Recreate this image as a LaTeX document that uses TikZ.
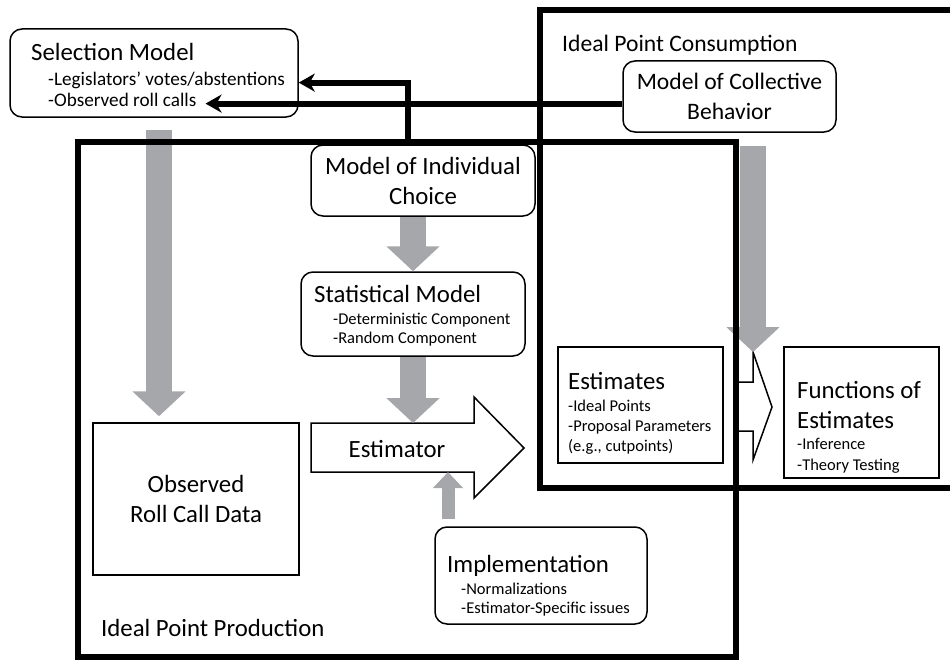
\documentclass[tikz,border=0pt]{standalone}
\usepackage{fontspec}
\setmainfont{Carlito}
\usetikzlibrary{arrows.meta}
\definecolor{flowgray}{RGB}{166,167,171}
\newcommand{\hfont}{\fontsize{24.8}{30}\selectfont}
\newcommand{\cfont}{\fontsize{23.6}{29.5}\selectfont}
\newcommand{\ifont}{\fontsize{19.2}{22}\selectfont}
\newcommand{\sfont}{\fontsize{16.5}{19}\selectfont}

\begin{document}
\begin{tikzpicture}[x=1pt,y=-1pt,
    box/.style={draw, line width=1.5pt, fill=white, rounded corners=12pt, inner sep=0pt},
    sqbox/.style={draw, line width=1.5pt, fill=white, inner sep=0pt},
    region/.style={draw, line width=5.5pt},
    lbl/.style={anchor=base west, inner sep=0pt},
    conn/.style={line width=6pt, line join=miter, -{Stealth[length=16pt,width=18pt,inset=5pt]}},
    flow/.style={line width=26pt, flowgray, -{Triangle[length=25pt,width=52pt]}},
    flowsmall/.style={line width=13pt, flowgray, -{Triangle[length=16pt,width=29pt]}},
    bigarrow/.style={draw, line width=1.5pt, fill=white, line join=miter}
]
\useasboundingbox (0,0) rectangle (950,661);
\clip (0,0) rectangle (950,661);

% boxes
\node[box, minimum width=288, minimum height=88] (sel) at (154,73) {};
\node[box, minimum width=213, minimum height=71, align=center, font=\cfont] (coll) at (729.5,96.5) {Model of Collective\\Behavior};
\node[box, minimum width=224, minimum height=71, align=center, font=\hfont] (indiv) at (423,180.5) {Model of Individual\\Choice};
\node[box, minimum width=224, minimum height=84] (stat) at (413,314) {};
\node[sqbox, minimum width=206, minimum height=152, align=center, font=\hfont] (obs) at (196,499) {Observed\\Roll Call Data};
\node[box, minimum width=212, minimum height=97] (impl) at (541,575.5) {};
\node[sqbox, minimum width=165, minimum height=116] (ests) at (640.5,405) {};
\node[sqbox, minimum width=155, minimum height=131] (funcs) at (861.5,412.5) {};

% texts
\node[lbl] (seltitle) at (31,60) {\hfont Selection Model};
\node[lbl] (sellegis) at (48,85) {\ifont -Legislators’ votes/abstentions};
\node[lbl] (selobs) at (48,106) {\ifont -Observed roll calls};

\node[lbl] (stattitle) at (314,302) {\hfont Statistical Model};
\node[lbl] (statdet) at (333,324) {\sfont -Deterministic Component};
\node[lbl] (statran) at (333,343) {\sfont -Random Component};

\node[lbl] (impltitle) at (447,572) {\hfont Implementation};
\node[lbl] (implnorm) at (461,594) {\sfont -Normalizations};
\node[lbl] (implspec) at (461,613) {\sfont -Estimator-Specific issues};

\node[lbl] (eststitle) at (568,389) {\hfont Estimates};
\node[lbl] (estsideal) at (568,411) {\sfont -Ideal Points};
\node[lbl] (estsprop) at (568,431) {\sfont -Proposal Parameters};
\node[lbl] (estscut) at (568,451) {\sfont (e.g., cutpoints)};

\node[lbl] (funcstitle) at (797,398) {\hfont Functions of};
\node[lbl] (funcstitleb) at (797,428) {\hfont Estimates};
\node[lbl] (funcsinf) at (797,449) {\sfont -Inference};
\node[lbl] (funcstheo) at (797,470) {\sfont -Theory Testing};

\node[lbl] (prodtitle) at (101,636) {\hfont Ideal Point Production};
\node[lbl] (constitle) at (562,52) {\cfont Ideal Point Consumption};

% white block arrows
\draw[bigarrow] (311,423) -- (474,423) -- (474,397) -- (524,448) -- (474,498) -- (474,472) -- (311,472) -- cycle;
\node[anchor=base, inner sep=0pt] (estr) at (397,457) {\hfont Estimator};
\draw[bigarrow] (737,382) -- (753,382) -- (753,352) -- (772,407) -- (753,460) -- (753,431) -- (737,431);

\coordinate (esttop) at (413,423);
\coordinate (estbot) at (448,472);
\coordinate (fhead) at (753,352);

% gray flow arrows
\draw[flow, shorten <=12pt, shorten >=6pt] ([xshift=5pt]sel.south) -- ([xshift=5pt]sel.south |- obs.north);
\draw[flow] (stat.north |- indiv.south) -- (stat.north);
\draw[flow] (stat.south) -- (esttop);
\draw[flowsmall, shorten <=7pt] (estbot |- impl.north) -- (estbot);
\draw[flow, shorten <=13pt] (fhead |- coll.south) -- (fhead);

% black connectors
\draw[conn] ([xshift=-15pt]indiv.north) |- (sel.east |- sellegis.mid);
\draw[conn] (coll.west |- selobs.mid) -- ([xshift=9pt]selobs.mid -| selobs.east);

% regions
\draw[region] (78,142) rectangle (736,657);
\draw[region] (540,10) rectangle (962,488);

\end{tikzpicture}
\end{document}
